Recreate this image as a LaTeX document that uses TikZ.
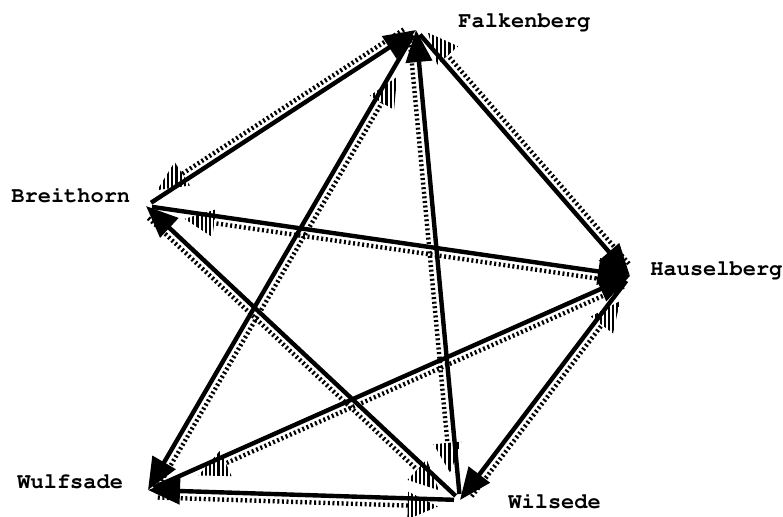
\documentclass[tikz,border=0pt]{standalone}
\usepackage[T1]{fontenc}
\usetikzlibrary{calc,arrows.meta,patterns.meta}
% hatched arrow: tail, tip, side, pull back of the head
\newcommand\hatcharrow[4]{%
  \coordinate (ha) at ($(#1)!3.6pt!#3:(#2)$);
  \coordinate (hb) at ($(#2)!-3.6pt!#3:(#1)$);
  \coordinate (ht) at ($(hb)!#4!(ha)$);
  \coordinate (hc) at ($(ht)!15pt!(ha)$);
  \draw[hatchline] ($(ha)!5pt!(hb)$) -- (hc);
  \fill[hatchhead] (ht) -- ($(hc)!7pt!90:(ht)$) -- ($(hc)!7pt!-90:(ht)$) -- cycle;}
\begin{document}
\begin{tikzpicture}[x=.5pt,y=-.5pt,>={Triangle[length=16pt,width=13pt]},
  linkarrow/.style={line width=2.2pt,->,shorten <=3pt},
  hatchline/.style={line width=2.2pt,dash pattern=on 1pt off 1.3pt},
  hatchhead/.style={pattern={Lines[angle=90,distance=2.1pt,line width=1.1pt]}},
  place/.style={font=\fontfamily{pcr}\fontseries{b}\fontsize{11}{13}\selectfont,inner sep=0pt,anchor=west}]
\useasboundingbox (0,0) rectangle (783,516);
\coordinate (falk) at (416,30);
\coordinate (breit) at (146,206);
\coordinate (hausel) at (630,276);
\coordinate (wulf) at (148,490);
\coordinate (wils) at (460,500);
\node[place] (falklabel) at (458,22) {Falkenberg};
\node[place] (breitlabel) at (11,195) {Breithorn};
\node[place] (hausellabel) at (650,270) {Hauselberg};
\node[place] (wulflabel) at (17,482) {Wulfsade};
\node[place] (wilslabel) at (508,501) {Wilsede};
\foreach \a/\b/\s/\p in {breit/falk/-90/9pt, falk/hausel/-90/5pt, falk/wulf/-90/25pt,
  wils/falk/-90/14pt, breit/hausel/90/20pt, wils/breit/-90/11pt,
  wulf/hausel/90/26pt, hausel/wils/-90/13pt, wils/wulf/-90/11pt}{
  \draw[linkarrow] (\a) -- (\b);
  \hatcharrow{\b}{\a}{\s}{\p}}
\end{tikzpicture}
\end{document}
